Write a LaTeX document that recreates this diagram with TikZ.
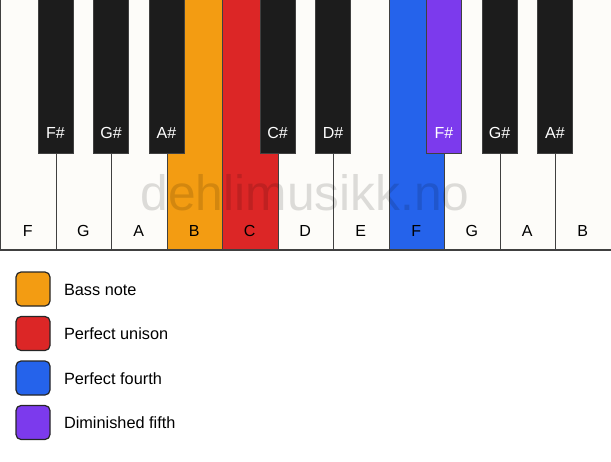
\documentclass[tikz,border=0pt]{standalone}
\usepackage{fontspec}
\setmainfont{Liberation Sans}
\definecolor{ivory}{HTML}{FDFCF9}
\definecolor{keyblack}{HTML}{1C1C1C}
\definecolor{bassorange}{HTML}{F39C12}
\definecolor{unisonred}{HTML}{DC2626}
\definecolor{fourthblue}{HTML}{2563EB}
\definecolor{fifthpurple}{HTML}{7C3AED}
\tikzset{
  whitekey/.style={draw=black!75,line width=1.2pt,fill=ivory},
  blackkey/.style={draw=black!75,line width=1pt,fill=keyblack},
  keylabel/.style={font=\fontsize{16}{16}\selectfont},
  legendbox/.style={draw=black!85,line width=1.2pt,rounded corners=5pt},
  legendtext/.style={anchor=west,font=\fontsize{16.3}{16}\selectfont}
}
\begin{document}
\begin{tikzpicture}[x=1pt,y=-1pt]
  \useasboundingbox (0,0) rectangle (611,461);
  \def\kw{55.5}
  % white keys
  \foreach \i/\n/\c in {0/F/ivory,1/G/ivory,2/A/ivory,3/B/bassorange,4/C/unisonred,5/D/ivory,6/E/ivory,7/F/fourthblue,8/G/ivory,9/A/ivory,10/B/ivory}{
    \draw[whitekey,fill=\c] (\i*\kw+0.6,-2) rectangle ({(\i+1)*\kw+0.6},250);
    \node[keylabel] (w\i) at ({(\i+0.5)*\kw},231) {\n};
  }
  % watermark
  \node[text=black,opacity=0.13,font=\fontsize{49.7}{50}\selectfont] (mark) at (305,193) {dehlimusikk.no};
  % black keys
  \foreach \b/\n/\c in {1/F\#/keyblack,2/G\#/keyblack,3/A\#/keyblack,5/C\#/keyblack,6/D\#/keyblack,8/F\#/fifthpurple,9/G\#/keyblack,10/A\#/keyblack}{
    \draw[blackkey,fill=\c] ({\b*\kw-17.5},-2) rectangle ({\b*\kw+17.5},153);
    \node[keylabel,text=white] (k\b) at ({\b*\kw},133) {\n};
  }
  % legend
  \foreach \j/\c/\t in {0/bassorange/Bass note,1/unisonred/Perfect unison,2/fourthblue/Perfect fourth,3/fifthpurple/Diminished fifth}{
    \draw[legendbox,fill=\c] (16,{272+\j*44.5}) rectangle (50,{306+\j*44.5});
    \node[legendtext] (l\j) at (60.5,{289.5+\j*44.5}) {\t};
  }
\end{tikzpicture}
\end{document}
